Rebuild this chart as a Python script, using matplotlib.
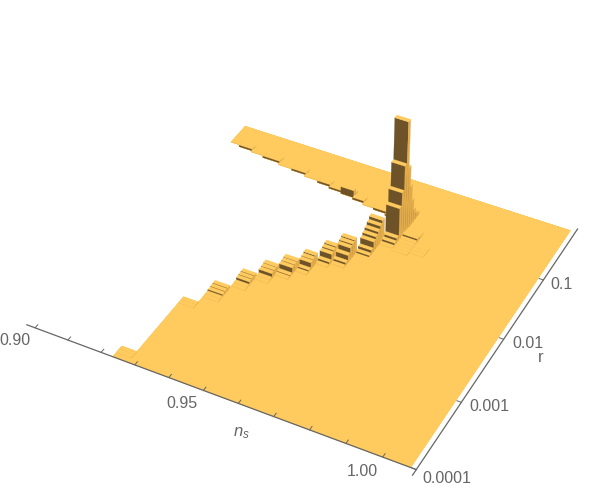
"""3D histogram of n_s against r, drawn as stacked thin bars."""

import matplotlib
matplotlib.use("Agg")
import matplotlib.pyplot as plt
from matplotlib.colors import to_rgba
from mpl_toolkits.mplot3d import proj3d

plt.rcParams["font.family"] = ["Liberation Sans", "DejaVu Sans"]
plt.rcParams["mathtext.fontset"] = "custom"
plt.rcParams["mathtext.it"] = "Liberation Sans:italic"
plt.rcParams["mathtext.rm"] = "Liberation Sans"

# bin edges along n_s
n_edges = [0.9067, 0.9097, 0.9139, 0.9181, 0.9235, 0.9280, 0.9325, 0.9370, 0.9410,
           0.9450, 0.9490, 0.9525, 0.9560, 0.9600, 0.9640, 0.9680, 0.9727, 0.9769,
           0.9811, 0.9853, 0.9895, 0.9937, 0.9979, 1.0021, 1.0075]
r_top = -0.15
r_bottom = -4.0
row_depth = 0.05

# log10(r) where the populated front part stops, columns 4..13
front_tops = [-3.83, -2.92, -2.58, -2.30, -2.10, -1.95, -1.80, -1.60, -1.48, -1.15]
# last rows of each of those columns, front to back
front_steps = [
    [0.001, 0.002],
    [0.001, 0.003],
    [0.002, 0.004, 0.014, 0.017, 0.020],
    [0.002, 0.005, 0.022, 0.025, 0.028],
    [0.003, 0.008, 0.035, 0.040, 0.045],
    [0.005, 0.010, 0.050, 0.055, 0.060],
    [0.005, 0.015, 0.055, 0.060, 0.070],
    [0.005, 0.020, 0.065, 0.075, 0.085],
    [0.005, 0.020, 0.060, 0.100, 0.110, 0.120],
    [0.010, 0.030, 0.080, 0.100, 0.120, 0.145, 0.170],
]

# log10(r) where the back band starts, columns 0..13
back_starts = [-0.47, -0.50, -0.52, -0.55, -0.58, -0.60, -0.63,
               -0.66, -0.69, -0.71, -0.74, -0.77, -0.79, -0.82]
back_steps = [
    [0.002], [0.012, 0.002], [0.003], [0.012, 0.003], [0.003], [0.012, 0.004], [0.004],
    [0.014, 0.004], [0.012], [0.060, 0.014], [0.014, 0.004], [0.006], [0.014, 0.004], [0.012],
]

# the peak column and the ripples next to it
peak_col = 14
peak_start = -1.27
peak_heights = [0.005, 0.02, 0.04, 0.27, 0.38, 0.58, 0.92, 0.52, 0.34, 0.20, 0.10, 0.05, 0.02]
ripple_cols = [15, 16]
ripple_starts = [-1.30, -1.25]
ripple_heights = [
    [0.002, 0.003, 0.004, 0.006, 0.008, 0.020, 0.012, 0.006],
    [0.001, 0.002, 0.003],
]

n_ticks = [0.90, 0.91, 0.92, 0.93, 0.94, 0.95, 0.96, 0.97, 0.98, 0.99, 1.00]
n_labels = {0.90: "0.90", 0.95: "0.95", 1.00: "1.00"}
n_label_shift = {0.90: -0.0018, 0.95: -0.0024, 1.00: -0.0024}
r_ticks = [-4, -3, -2, -1]
r_labels = ["0.0001", "0.001", "0.01", "0.1"]
r_label_shift = [(0.0077, 0.027), (0.0068, 0.080), (0.0061, 0.051), (0.0049, 0.025)]

TOP = "#FFCB5F"
DARK = "#6E5228"
SIDE = "#E3AC4B"
FAINT = "#F2BE56"
GREY = "#666666"


def add_bar(ax, col, y0, y1, height):
    # face order in bar3d: -z, +z, -y, +y, -x, +x; the hidden ones stay see-through
    hidden = (0, 0, 0, 0)
    front = DARK if height >= 0.01 else FAINT
    faces = [hidden, to_rgba(TOP), to_rgba(front), hidden, hidden, to_rgba(SIDE)]
    art = ax.bar3d(n_edges[col], y0, 0, n_edges[col + 1] - n_edges[col], y1 - y0, height,
                   color=faces, edgecolors=faces, linewidth=0.15, shade=False)
    art.set_zorder(2)
    art.set_clip_on(False)


def rows(col, start, heights):
    return [(col, start + i * row_depth, start + (i + 1) * row_depth, h)
            for i, h in enumerate(heights)]


fig = plt.figure(figsize=(6, 4.9), dpi=100)
ax = fig.add_axes([107.6 / 600, 65.2 / 490, 412.2 / 600, 412.2 / 490],
                  projection="3d", computed_zorder=False)

# flat plate first, everything standing on it afterwards
plate_x, plate_y, plate_dx, plate_dy = [], [], [], []
for k, top in enumerate(front_tops):
    col = k + 4
    plate_x.append(n_edges[col])
    plate_dx.append(n_edges[col + 1] - n_edges[col])
    plate_y.append(r_bottom)
    plate_dy.append(top - r_bottom)
for col, start in enumerate(back_starts):
    plate_x.append(n_edges[col])
    plate_dx.append(n_edges[col + 1] - n_edges[col])
    plate_y.append(start)
    plate_dy.append(r_top - start)
for col in range(len(back_starts), len(n_edges) - 1):
    plate_x.append(n_edges[col])
    plate_dx.append(n_edges[col + 1] - n_edges[col])
    plate_y.append(r_bottom)
    plate_dy.append(r_top - r_bottom)
plate = ax.bar3d(plate_x, plate_y, [0] * len(plate_x), plate_dx, plate_dy,
                 [0.001] * len(plate_x), color=TOP, shade=False, edgecolor=TOP, linewidth=0.3)
plate.set_zorder(1)
plate.set_clip_on(False)

bars = []
for k, (top, steps) in enumerate(zip(front_tops, front_steps)):
    bars += rows(k + 4, top - len(steps) * row_depth, steps)
for col, (start, steps) in enumerate(zip(back_starts, back_steps)):
    bars += rows(col, start, steps)
bars += rows(peak_col, peak_start, peak_heights)
for col, start, heights in zip(ripple_cols, ripple_starts, ripple_heights):
    bars += rows(col, start, heights)
# painter's order: far rows first, left columns first
for col, y0, y1, height in sorted(bars, key=lambda b: (-b[1], b[0])):
    add_bar(ax, col, y0, y1, height)

# only two frame edges are drawn
n_axis_r = -4.0
r_axis_n = 1.009
for xs, ys in [([0.8975, r_axis_n], [n_axis_r, n_axis_r]), ([r_axis_n, r_axis_n], [-4.08, -0.09])]:
    ax.plot(xs, ys, [0, 0], color=GREY, lw=0.9, zorder=3, clip_on=False)

for t in n_ticks:
    ax.plot([t, t], [n_axis_r, n_axis_r + 0.05], [0, 0], color=GREY, lw=0.7, zorder=3, clip_on=False)
for t in r_ticks:
    ax.plot([r_axis_n, r_axis_n - 0.0012], [t, t], [0, 0], color=GREY, lw=0.7, zorder=3, clip_on=False)

ax.set_xlim(0.89, 1.02)
ax.set_ylim(-4.2, 0.3)
ax.set_zlim(0, 1)
ax.set_proj_type("persp")
ax.set_box_aspect((1, 0.8978, 0.3138), zoom=1.627)
ax.view_init(39.6468, -62.4931)
ax.set_axis_off()


def floor_label(n, log_r, text):
    x2, y2, _ = proj3d.proj_transform(n, log_r, 0, ax.get_proj())
    ax.text2D(x2, y2, text, transform=ax.transData, color=GREY, fontsize=11.5,
              ha="center", va="center", zorder=4, clip_on=False)


for t, text in n_labels.items():
    floor_label(t + n_label_shift[t], n_axis_r - 0.25, text)
for t, text, (dn, dr) in zip(r_ticks, r_labels, r_label_shift):
    floor_label(r_axis_n + dn, t + dr, text)

fig.text(241 / 600, 1 - 433 / 490, "$n_s$", color=GREY, fontsize=12, ha="center", va="center")
fig.text(541 / 600, 1 - 357 / 490, "r", color=GREY, fontsize=12, ha="center", va="center")

fig.savefig("out.png", dpi=100)
plt.close(fig)
